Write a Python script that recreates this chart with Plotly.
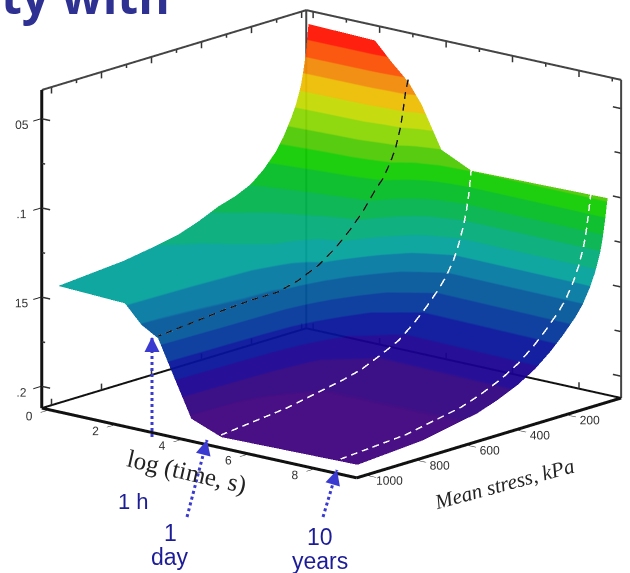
import numpy as np
import plotly.graph_objects as go

log_time = [0, 2, 2.5, 3, 3.4, 4, 4.9, 9]
stress = [0, 10, 20, 30, 50, 70, 100, 130, 180, 230, 290, 360, 440, 520, 630, 740, 1000]
# strain, one row per stress, one column per log_time
strain = [
    [.040, .041, .051, .060, .071, .094, .102, .1005],
    [.055, .058, .063, .066, .085, .104, .116, .1124],
    [.065, .068, .073, .076, .094, .111, .125, .1225],
    [.073, .076, .082, .085, .102, .118, .132, .130],
    [.083, .087, .092, .096, .110, .127, .142, .140],
    [.090, .095, .099, .103, .117, .134, .150, .1474],
    [.099, .105, .108, .111, .125, .143, .158, .156],
    [.106, .112, .114, .116, .131, .150, .164, .162],
    [.114, .121, .124, .126, .141, .159, .172, .170],
    [.120, .128, .131, .134, .148, .167, .179, .177],
    [.124, .133, .139, .142, .156, .175, .186, .184],
    [.127, .137, .145, .149, .163, .182, .191, .190],
    [.132, .140, .149, .154, .169, .189, .196, .195],
    [.136, .143, .152, .157, .173, .194, .199, .199],
    [.139, .144, .153, .157, .175, .198, .202, .202],
    [.1415, .145, .154, .158, .176, .200, .205, .205],
    [.1445, .146, .156, .1615, .178, .2024, .209, .2076],
]
band_colors = ["#ff2000", "#fb5a12", "#f39016", "#eec010", "#c8dc10", "#90d810", "#58cc10",
               "#1ecf10", "#10c030", "#10b858", "#10b080", "#10a8a0", "#1080a8", "#1060a0",
               "#1040a0", "#1420a0", "#281098", "#3c1088", "#4a0e84"]
z_min, z_max = 0.04, 0.21
x_range = [-0.22, 9.28]
y_range = [1040, -20]
z_range = [0.2124, 0.0337]
x_ticks = [0, 2, 4, 6, 8]
y_ticks = [200, 400, 600, 800, 1000]
z_ticks = [0.05, 0.1, 0.15, 0.2]
z_labels = ["05", ".1", "15", ".2"]
x_minor = [1, 3, 5, 7, 9]
y_minor = [100, 300, 500, 700, 900]
z_minor = [0.025, 0.075, 0.125, 0.175]

surf_opacity = 0.94
def comp(hexc):
    v = [int(hexc[i:i + 2], 16) for i in (1, 3, 5)]
    v = [max(0, min(255, round((c - 255 * (1 - surf_opacity)) / surf_opacity))) for c in v]
    return "rgb(%d,%d,%d)" % tuple(v)

n = len(band_colors)
cs = []
for i, c in enumerate(band_colors):
    cs += [[i / n, comp(c)], [(i + 1) / n, comp(c)]]

fig = go.Figure()
fig.add_trace(go.Surface(x=log_time, y=stress, z=strain, colorscale=cs, cmin=z_min, cmax=z_max,
                         showscale=False, hoverinfo="skip", opacity=surf_opacity,
                         lighting=dict(ambient=1, diffuse=0, specular=0, roughness=1, fresnel=0)))

def col(x):
    return [row[log_time.index(x)] for row in strain]

def dashed(xv, zs, color, on=6.5, off=4.5):
    """Dash a curve of constant log time; lengths are in approximate screen pixels."""
    s = np.array(stress, float)
    z = np.array(zs, float) - 0.0012
    dv = -np.diff(s) / 1060
    seg = np.hypot(265 * dv, 80 * dv + 1780 * np.diff(z))
    arc = np.concatenate([[0], np.cumsum(seg)])
    xs, ys, zz = [], [], []
    p = 0.0
    while p < arc[-1]:
        t = np.append(arc[(arc > p) & (arc < p + on)], min(p + on, arc[-1]))
        t = np.insert(t, 0, p)
        xs += [xv] * len(t) + [None]
        ys += list(np.interp(t, arc, s)) + [None]
        zz += list(np.interp(t, arc, z)) + [None]
        p += on + off
    fig.add_trace(go.Scatter3d(x=xs, y=ys, z=zz, mode="lines", line=dict(color=color, width=3),
                               hoverinfo="skip", showlegend=False, connectgaps=False))

dashed(3, col(3), "#111")
dashed(4.9, col(4.9), "white")
dashed(8.5, col(9), "white")

# edges sit a hair inside the axis ranges so the scene's clipping keeps them
x0, x1 = x_range[0] + .012, x_range[1] - .012
y0, y1 = y_range[0] - 1.2, y_range[1] + 1.2
zb, zt = z_range[0] - .0002, z_range[1] + .0002

def segs(pairs, color, width):
    ex, ey, ez = [], [], []
    for a, b in pairs:
        ex += [a[0], b[0], None]; ey += [a[1], b[1], None]; ez += [a[2], b[2], None]
    fig.add_trace(go.Scatter3d(x=ex, y=ey, z=ez, mode="lines", line=dict(color=color, width=width),
                               hoverinfo="skip", showlegend=False))

segs([((x0, y0, zb), (x1, y0, zb)), ((x1, y0, zb), (x1, y1, zb)), ((x0, y0, zb), (x0, y0, zt))], "#111", 6)
segs([((x0, y0, zb), (x0, y1, zb)), ((x0, y1, zb), (x1, y1, zb))], "#111", 4)
segs([((x0, y1, zb), (x0, y1, zt)), ((x1, y1, zb), (x1, y1, zt)), ((x0, y0, zt), (x0, y1, zt)),
      ((x0, y1, zt), (x1, y1, zt))], "#444", 4)
dl, ds = 0.0036, 0.002   # tick depth on the z axis
tp = []
for s in y_ticks + [0]:
    tp.append(((x0, s, zt), (x0, s, zt + dl)))
    tp.append(((x0, s, zb), (x0, s, zb - dl)))
for s in y_minor:
    tp.append(((x0, s, zt), (x0, s, zt + ds)))
for t in x_ticks:
    tp.append(((t, y1, zt), (t, y1, zt + dl)))
    tp.append(((t, y1, zb), (t, y1, zb - dl)))
for t in x_minor:
    tp.append(((t, y1, zt), (t, y1, zt + ds)))
for z in z_ticks:
    tp.append(((x0, y0, z), (x0 + .25, y0, z)))
    tp.append(((x1, y1, z), (x1 - .25, y1, z)))
for z in z_minor:
    tp.append(((x0, y0, z), (x0 + .1, y0, z)))
    tp.append(((x1, y1, z), (x1 - .2, y1, z)))
segs(tp, "#333", 3)

ax = dict(showbackground=False, showgrid=False, zeroline=False, showspikes=False, showline=False,
          ticks="outside", ticklen=12, tickcolor="#222", tickwidth=2, title="", tickangle=0,
          tickfont=dict(family="Liberation Sans", size=12, color="#333"))
k = 1.67
cx, cy = -.0513, -.044
fig.update_layout(
    width=630, height=573, margin=dict(l=0, r=0, t=0, b=0), paper_bgcolor="white", showlegend=False,
    scene=dict(
        domain=dict(x=[0, 1], y=[0.148, 1]),
        aspectmode="manual", aspectratio=dict(x=1.02 * k, y=1.0 * k, z=0.81 * k),
        camera=dict(projection=dict(type="orthographic"), up=dict(x=0, y=0, z=1),
                    center=dict(x=cx, y=cy, z=0), eye=dict(x=.6284 * 2 + cx, y=-.7337 * 2 + cy, z=.2586 * 2)),
        xaxis=dict(ax, range=x_range, tickvals=x_ticks, ticktext=[str(t) for t in x_ticks]),
        yaxis=dict(ax, range=y_range, tickvals=y_ticks, ticktext=[str(t) for t in y_ticks]),
        zaxis=dict(ax, range=z_range, tickvals=z_ticks, ticktext=z_labels),
    ),
)
blue = "#1c1c98"
def note(t, x, y, size, color="black", fam="Liberation Serif", rot=0, **k):
    fig.add_annotation(text=t, x=x / 630, y=1 - y / 573, xref="paper", yref="paper", showarrow=False,
                       xanchor="center", yanchor="middle",
                       font=dict(family=fam, size=size, color=color), textangle=rot, **k)
note("<b>ty with</b>", 86, -5, 48, "#2e3192", "Open Sans")
note("log (time, s)", 187, 472, 25, "#222", rot=13)
note("<i>Mean stress, kPa</i>", 504, 484, 21, "#222", rot=-15)
note("1 h", 133, 501, 22, blue, "Liberation Sans")
note("1", 170, 533, 23, blue, "Liberation Sans")
note("day", 170, 557, 23, blue, "Liberation Sans")
note("10", 320, 537, 23, blue, "Liberation Sans")
note("years", 320, 561, 23, blue, "Liberation Sans")
for (a, b, c, d) in [(152, 437, 152, 337), (187, 517, 207, 440), (323, 517, 337, 470)]:
    fig.add_shape(type="line", xref="paper", yref="paper", x0=a / 630, y0=1 - b / 573, x1=c / 630, y1=1 - d / 573,
                  line=dict(color="#3a3ad0", width=3, dash="dot"), layer="above")
    fig.add_annotation(x=c / 630, y=1 - d / 573, ax=(a - c) * .15, ay=(b - d) * .15,
                       xref="paper", yref="paper", text="", showarrow=True,
                       arrowhead=2, arrowsize=1, arrowwidth=3, arrowcolor="#3a3ad0")
fig.write_html("out.html", config=dict(displayModeBar=False),
               post_script="document.body.style.margin='0';document.body.style.overflow='hidden';")
